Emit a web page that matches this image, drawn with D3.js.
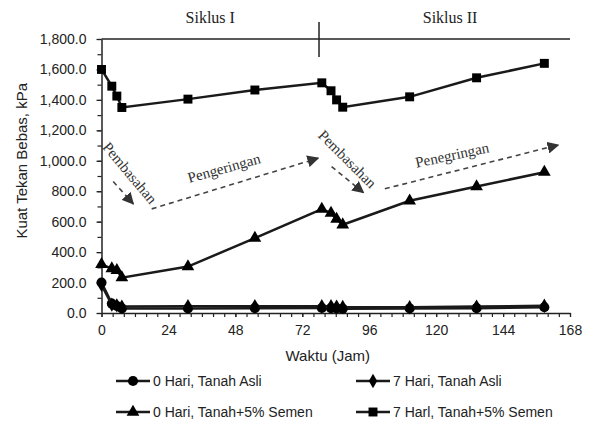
<!DOCTYPE html>
<html>
<head>
<meta charset="utf-8">
<script src="https://cdn.jsdelivr.net/npm/d3@7"></script>
<style>
  body { margin: 0; background: #fff; }
  svg { display: block; }
  .tick text { font-family: "Liberation Sans", Arial, sans-serif; font-size: 14px; fill: #222; }
</style>
</head>
<body>
<div id="chart"></div>
<script>
// time in hours
const hours = [0, 3.7, 5.5, 7.3, 31, 55, 79, 82.3, 84.3, 86.5, 110.5, 134.5, 158.8];

// kuat tekan bebas (kPa)
const asli0 = [200, 62, 46, 30, 30, 32, 33, 32, 30, 28, 30, 32, 38];
const asli7 = [185, 55, 50, 42, 45, 45, 45, 44, 42, 40, 38, 42, 48];
const semen0 = [320, 292, 280, 232, 305, 492, 683, 656, 617, 580, 737, 831, 925];
const semen7 = [1600, 1490, 1425, 1350, 1405, 1465, 1512, 1460, 1400, 1352, 1420, 1545, 1640];

const seriesNames = ["0 Hari, Tanah Asli", "7 Hari, Tanah Asli", "0 Hari, Tanah+5% Semen", "7 Harl, Tanah+5% Semen"];
const seriesSymbols = [d3.symbolCircle, d3.symbolDiamond, d3.symbolTriangle, d3.symbolSquare];

const xTicks = [0, 24, 48, 72, 96, 120, 144, 168];
const yTicks = [0, 200, 400, 600, 800, 1000, 1200, 1400, 1600, 1800];

// cycles
const cycleBreak = 78;
const cycleLabels = ["Siklus I", "Siklus II"];
const cycleCenters = [39, 125];

// annotation arrows [x0, y0, x1, y1] in hours / kPa
const arrows = [[4.2, 864, 11.4, 717], [18, 684, 77.7, 1017], [82.5, 962, 93.9, 791], [101.6, 816, 163.8, 1104]];
const annoText = ["Pembasahan", "Pengeringan", "Pembasahan", "Penegringan"];
const annoPos = [[10.2, 921], [43.9, 953], [88.2, 1012], [125.7, 1039]];
const annoAngle = [50, -15.5, 45, -12];

const W = 591, H = 425;
const margin = { top: 39, right: 21, bottom: 112, left: 101.5 };
const width = W - margin.left - margin.right,
    height = H - margin.top - margin.bottom;

const svg = d3.select("#chart").append("svg")
    .attr("width", W).attr("height", H)
    .append("g")
    .attr("transform", `translate(${margin.left},${margin.top})`);

const x = d3.scaleLinear().domain([0, 168]).range([0, width]);
const y = d3.scaleLinear().domain([0, 1800]).range([height, 0]);

// minor ticks
svg.append("g")
    .attr("transform", `translate(0,${height})`)
    .call(d3.axisBottom(x).tickValues(d3.range(0, 169, 4)).tickSize(4).tickFormat(""))
    .call(g => g.select(".domain").remove())
    .selectAll("line").attr("stroke", "#222").attr("stroke-width", 1.2);
svg.append("g")
    .call(d3.axisLeft(y).tickValues(d3.range(0, 1801, 100)).tickSize(4).tickFormat(""))
    .call(g => g.select(".domain").remove())
    .selectAll("line").attr("stroke", "#222").attr("stroke-width", 1.2);

// X axis
svg.append("g")
    .attr("transform", `translate(0,${height})`)
    .call(d3.axisBottom(x).tickValues(xTicks).tickSize(4).tickSizeOuter(0).tickPadding(8))
    .call(g => g.select(".domain").attr("stroke", "#222").attr("stroke-width", 1.5))
    .call(g => g.selectAll("line").attr("stroke", "#222").attr("stroke-width", 1.2));

// Y axis
svg.append("g")
    .call(d3.axisLeft(y).tickValues(yTicks).tickFormat(d3.format(",.1f")).tickSize(5).tickSizeOuter(0).tickPadding(10))
    .call(g => g.select(".domain").attr("stroke", "#222").attr("stroke-width", 1.5))
    .call(g => g.selectAll("line").attr("stroke", "#222").attr("stroke-width", 1.2));

// top line and cycle separator
svg.append("line")
    .attr("x1", 0).attr("x2", width)
    .attr("y1", y(1800)).attr("y2", y(1800))
    .attr("stroke", "#222").attr("stroke-width", 1.5);
svg.append("line")
    .attr("x1", x(cycleBreak)).attr("x2", x(cycleBreak))
    .attr("y1", y(1800) - 17).attr("y2", y(1800) + 18)
    .attr("stroke", "#222").attr("stroke-width", 1.5);
svg.selectAll(".cycle")
    .data(cycleLabels)
    .enter().append("text")
    .attr("x", (d, i) => x(cycleCenters[i]))
    .attr("y", -16)
    .attr("text-anchor", "middle")
    .style("font-family", "'Liberation Serif', 'Times New Roman', serif")
    .style("font-size", "16px")
    .attr("fill", "#222")
    .text(d => d);

// axis titles
svg.append("text")
    .attr("x", width / 2 - 8)
    .attr("y", height + 48)
    .attr("text-anchor", "middle")
    .style("font-family", "'Liberation Sans', Arial, sans-serif")
    .style("font-size", "15px")
    .attr("fill", "#222")
    .text("Waktu (Jam)");
svg.append("text")
    .attr("transform", `translate(${-margin.left + 27},${y(1000)}) rotate(-90)`)
    .attr("text-anchor", "middle")
    .style("font-family", "'Liberation Sans', Arial, sans-serif")
    .style("font-size", "15px")
    .attr("fill", "#222")
    .text("Kuat Tekan Bebas, kPa");

// annotations
svg.append("defs").append("marker")
    .attr("id", "arrowhead")
    .attr("viewBox", "0 0 10 10")
    .attr("refX", 9).attr("refY", 5)
    .attr("markerWidth", 12).attr("markerHeight", 12)
    .attr("markerUnits", "userSpaceOnUse")
    .attr("orient", "auto")
    .append("path")
    .attr("d", "M0,0L10,5L0,10Z")
    .attr("fill", "#333");

svg.selectAll(".arrow")
    .data(arrows)
    .enter().append("line")
    .attr("x1", d => x(d[0])).attr("y1", d => y(d[1]))
    .attr("x2", d => x(d[2])).attr("y2", d => y(d[3]))
    .attr("stroke", "#444")
    .attr("stroke-width", 1.6)
    .attr("stroke-dasharray", "5,4")
    .attr("marker-end", "url(#arrowhead)");

svg.selectAll(".anno")
    .data(annoText)
    .enter().append("text")
    .attr("transform", (d, i) => `translate(${x(annoPos[i][0])},${y(annoPos[i][1])}) rotate(${annoAngle[i]})`)
    .attr("text-anchor", "middle")
    .attr("dy", "0.35em")
    .style("font-family", "'Liberation Serif', 'Times New Roman', serif")
    .style("font-size", "15px")
    .attr("fill", "#333")
    .text(d => d);

// series
const allSeries = [asli0, asli7, semen0, semen7];
const symbolSize = [80, 60, 70, 80];

const line = d3.line()
    .x((d, i) => x(hours[i]))
    .y(d => y(d));

allSeries.forEach(function (values, k) {
    svg.append("path")
        .datum(values)
        .attr("fill", "none")
        .attr("stroke", "#1a1a1a")
        .attr("stroke-width", 2.5)
        .attr("d", line);
    svg.selectAll(".pt" + k)
        .data(values)
        .enter().append("path")
        .attr("transform", (d, i) => `translate(${x(hours[i])},${y(d)})`)
        .attr("d", d3.symbol().type(seriesSymbols[k]).size(symbolSize[k]))
        .attr("fill", "#000");
});

// legend
const legendX = [116, 356];
const legendY = [381, 412];
const legend = d3.select("svg").append("g");
seriesNames.forEach(function (name, k) {
    const lx = legendX[k % 2], ly = legendY[Math.floor(k / 2)];
    legend.append("line")
        .attr("x1", lx).attr("x2", lx + 34)
        .attr("y1", ly).attr("y2", ly)
        .attr("stroke", "#1a1a1a").attr("stroke-width", 2.5);
    legend.append("path")
        .attr("transform", `translate(${lx + 17},${ly})`)
        .attr("d", d3.symbol().type(seriesSymbols[k]).size(symbolSize[k]))
        .attr("fill", "#000");
    legend.append("text")
        .attr("x", lx + 37)
        .attr("y", ly)
        .attr("dy", "0.35em")
        .style("font-family", "'Liberation Sans', Arial, sans-serif")
        .style("font-size", "14px")
        .attr("fill", "#222")
        .text(name);
});
</script>
</body>
</html>
